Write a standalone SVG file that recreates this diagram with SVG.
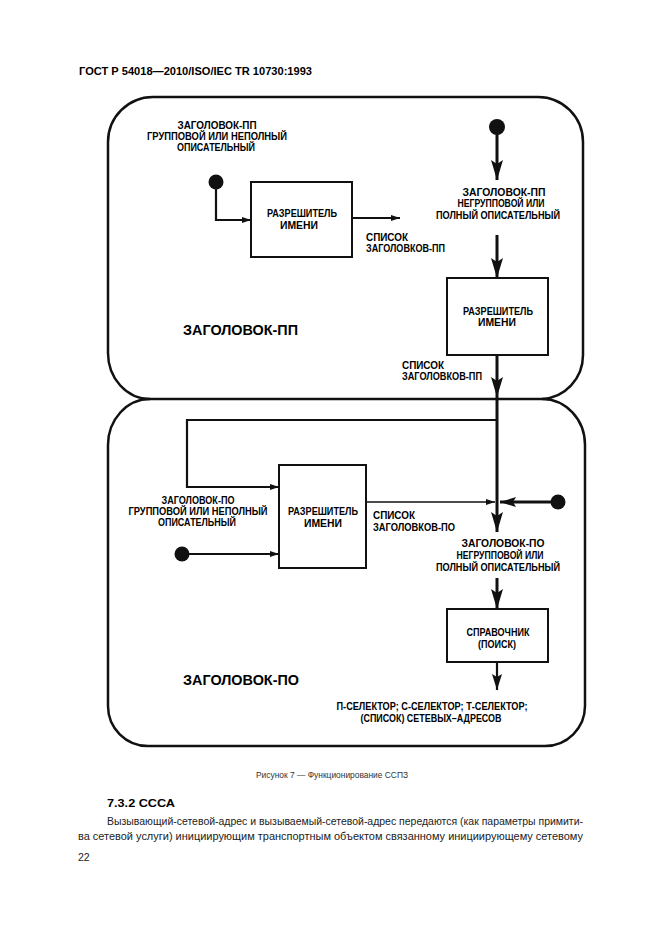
<svg xmlns="http://www.w3.org/2000/svg" width="661" height="936" viewBox="0 0 661 936">
<style>
.t{font-family:"Liberation Sans",Arial,sans-serif;font-weight:bold;font-size:10.5px;fill:#000}
.big{font-family:"Liberation Sans",Arial,sans-serif;font-weight:bold;font-size:14px;fill:#000}
.reg{font-family:"Liberation Sans",Arial,sans-serif;font-size:10.5px;fill:#222}
.box{fill:#fff;stroke:#111;stroke-width:2}
.outline{fill:none;stroke:#111;stroke-width:2.5}
.thick{fill:none;stroke:#111;stroke-width:3}
.mid{fill:none;stroke:#111;stroke-width:2.2}
.thin{fill:none;stroke:#111;stroke-width:1.6}
.dot{fill:#111}
</style>
<defs>
<marker id="ab" viewBox="0 0 20 12" markerWidth="20" markerHeight="12" refX="20" refY="6" orient="auto" markerUnits="userSpaceOnUse"><path d="M0,0 L20,6 L0,12 L4,6 z" fill="#111"/></marker>
<marker id="am" viewBox="0 0 16 10" markerWidth="16" markerHeight="10" refX="16" refY="5" orient="auto" markerUnits="userSpaceOnUse"><path d="M0,0 L16,5 L0,10 L3,5 z" fill="#111"/></marker>
<marker id="as" viewBox="0 0 9 6" markerWidth="9" markerHeight="6" refX="9" refY="3" orient="auto" markerUnits="userSpaceOnUse"><path d="M0,0 L9,3 L0,6 z" fill="#111"/></marker>
</defs>
<rect width="661" height="936" fill="#fff"/>
<text class="t" x="79" y="75" style="font-size:11px" textLength="233" lengthAdjust="spacingAndGlyphs">ГОСТ Р 54018—2010/ISO/IEC TR 10730:1993</text>

<g id="upper-region">
<path class="outline" d="M108,353 V142 A45,45 0 0 1 153,97 H538 A45,45 0 0 1 583,142 V355 A43,44 0 0 1 542,399 H150 A42,46 0 0 1 108,353 Z"/>
<text class="big" x="183" y="335" textLength="115" lengthAdjust="spacingAndGlyphs">ЗАГОЛОВОК-ПП</text>
</g>
<g id="lower-region">
<path class="outline" d="M150,399 A42,46 0 0 0 108,445 V706 A40,40 0 0 0 148,746 H545 A40,40 0 0 0 585,706 V445 A43,46 0 0 0 542,399"/>
<text class="big" x="183" y="685" textLength="116" lengthAdjust="spacingAndGlyphs">ЗАГОЛОВОК-ПО</text>
</g>

<g id="connectors">
<path class="thick" d="M497,127 V180" marker-end="url(#ab)"/>
<path class="thick" d="M497,235 V278" marker-end="url(#ab)"/>
<path class="thick" d="M497,355 V397" marker-end="url(#ab)"/>
<path class="thick" d="M497,397 V532" marker-end="url(#ab)"/>
<path class="thick" d="M497,578 V609" marker-end="url(#ab)"/>
<path class="mid" d="M497,662 V690" marker-end="url(#am)"/>
<path class="mid" d="M216,182 V220 H251" marker-end="url(#as)"/>
<path class="mid" d="M352,218 H400" marker-end="url(#as)"/>
<path class="mid" d="M497,420 H187 V487 H279" marker-end="url(#as)"/>
<path class="mid" d="M182,554 H279" marker-end="url(#as)"/>
<path class="thin" d="M366,502 H495" marker-end="url(#as)"/>
<path class="thick" d="M558,502 H500" marker-end="url(#am)"/>
</g>

<g id="source-pp-group">
<circle class="dot" cx="216" cy="182" r="7.5"/>
<text class="t" text-anchor="middle" x="217" y="129" textLength="79" lengthAdjust="spacingAndGlyphs">ЗАГОЛОВОК-ПП</text>
<text class="t" text-anchor="middle" x="217" y="140" textLength="140" lengthAdjust="spacingAndGlyphs">ГРУППОВОЙ ИЛИ НЕПОЛНЫЙ</text>
<text class="t" text-anchor="middle" x="216" y="151" textLength="78" lengthAdjust="spacingAndGlyphs">ОПИСАТЕЛЬНЫЙ</text>
</g>

<g id="resolver-1">
<rect class="box" x="251" y="182" width="101" height="75"/>
<text class="t" text-anchor="middle" x="302" y="217" textLength="70" lengthAdjust="spacingAndGlyphs">РАЗРЕШИТЕЛЬ</text>
<text class="t" text-anchor="middle" x="299" y="229" textLength="38" lengthAdjust="spacingAndGlyphs">ИМЕНИ</text>
</g>
<g id="list-pp-1">
<text class="t" x="366" y="241" textLength="42" lengthAdjust="spacingAndGlyphs">СПИСОК</text>
<text class="t" x="366" y="252" textLength="79" lengthAdjust="spacingAndGlyphs">ЗАГОЛОВКОВ-ПП</text>
</g>

<g id="source-pp-single">
<circle class="dot" cx="497" cy="127" r="8"/>
<text class="t" text-anchor="middle" x="504" y="196" textLength="83" lengthAdjust="spacingAndGlyphs">ЗАГОЛОВОК-ПП</text>
<text class="t" text-anchor="middle" x="501" y="207" textLength="87" lengthAdjust="spacingAndGlyphs">НЕГРУППОВОЙ ИЛИ</text>
<text class="t" text-anchor="middle" x="498" y="219" textLength="124" lengthAdjust="spacingAndGlyphs">ПОЛНЫЙ ОПИСАТЕЛЬНЫЙ</text>
</g>

<g id="resolver-2">
<rect class="box" x="447" y="278" width="101" height="77"/>
<text class="t" text-anchor="middle" x="498" y="315" textLength="70" lengthAdjust="spacingAndGlyphs">РАЗРЕШИТЕЛЬ</text>
<text class="t" text-anchor="middle" x="497" y="326" textLength="38" lengthAdjust="spacingAndGlyphs">ИМЕНИ</text>
</g>
<g id="list-pp-2">
<text class="t" x="402" y="369" textLength="42" lengthAdjust="spacingAndGlyphs">СПИСОК</text>
<text class="t" x="402" y="380" textLength="80" lengthAdjust="spacingAndGlyphs">ЗАГОЛОВКОВ-ПП</text>
</g>

<g id="source-po-group">
<circle class="dot" cx="182" cy="554" r="7.5"/>
<text class="t" text-anchor="middle" x="198" y="504" textLength="73" lengthAdjust="spacingAndGlyphs">ЗАГОЛОВОК-ПО</text>
<text class="t" text-anchor="middle" x="198" y="515" textLength="139" lengthAdjust="spacingAndGlyphs">ГРУППОВОЙ ИЛИ НЕПОЛНЫЙ</text>
<text class="t" text-anchor="middle" x="197" y="526" textLength="78" lengthAdjust="spacingAndGlyphs">ОПИСАТЕЛЬНЫЙ</text>
</g>

<g id="resolver-3">
<rect class="box" x="279" y="465" width="87" height="103"/>
<text class="t" text-anchor="middle" x="323" y="515" textLength="70" lengthAdjust="spacingAndGlyphs">РАЗРЕШИТЕЛЬ</text>
<text class="t" text-anchor="middle" x="323" y="527" textLength="38" lengthAdjust="spacingAndGlyphs">ИМЕНИ</text>
</g>
<g id="list-po">
<text class="t" x="373" y="519" textLength="42" lengthAdjust="spacingAndGlyphs">СПИСОК</text>
<text class="t" x="373" y="531" textLength="82" lengthAdjust="spacingAndGlyphs">ЗАГОЛОВКОВ-ПО</text>
</g>

<g id="source-po-single">
<circle class="dot" cx="558" cy="502" r="7.5"/>
<text class="t" text-anchor="middle" x="503" y="547" textLength="83" lengthAdjust="spacingAndGlyphs">ЗАГОЛОВОК-ПО</text>
<text class="t" text-anchor="middle" x="500" y="559" textLength="87" lengthAdjust="spacingAndGlyphs">НЕГРУППОВОЙ ИЛИ</text>
<text class="t" text-anchor="middle" x="498" y="571" textLength="124" lengthAdjust="spacingAndGlyphs">ПОЛНЫЙ ОПИСАТЕЛЬНЫЙ</text>
</g>

<g id="directory">
<rect class="box" x="447" y="609" width="101" height="53"/>
<text class="t" text-anchor="middle" x="498" y="636" textLength="63" lengthAdjust="spacingAndGlyphs">СПРАВОЧНИК</text>
<text class="t" text-anchor="middle" x="497" y="648" textLength="38" lengthAdjust="spacingAndGlyphs">(ПОИСК)</text>
</g>
<g id="result">
<text class="t" text-anchor="middle" x="432" y="710" textLength="191" lengthAdjust="spacingAndGlyphs">П-СЕЛЕКТОР; С-СЕЛЕКТОР; Т-СЕЛЕКТОР;</text>
<text class="t" text-anchor="middle" x="431" y="722" textLength="141" lengthAdjust="spacingAndGlyphs">(СПИСОК) СЕТЕВЫХ–АДРЕСОВ</text>
</g>

<text class="reg" x="256" y="778" style="font-size:9.5px;fill:#333" textLength="152" lengthAdjust="spacingAndGlyphs">Рисунок 7 — Функционирование ССПЗ</text>
<text class="t" x="107" y="807" style="font-size:11px" textLength="68" lengthAdjust="spacingAndGlyphs">7.3.2 СССА</text>
<text class="reg" x="107" y="825" textLength="476" lengthAdjust="spacingAndGlyphs">Вызывающий-сетевой-адрес и вызываемый-сетевой-адрес передаются (как параметры примити-</text>
<text class="reg" x="78" y="840" textLength="505" lengthAdjust="spacingAndGlyphs">ва сетевой услуги) инициирующим транспортным объектом связанному инициирующему сетевому</text>
<text class="reg" x="78" y="861">22</text>
</svg>
